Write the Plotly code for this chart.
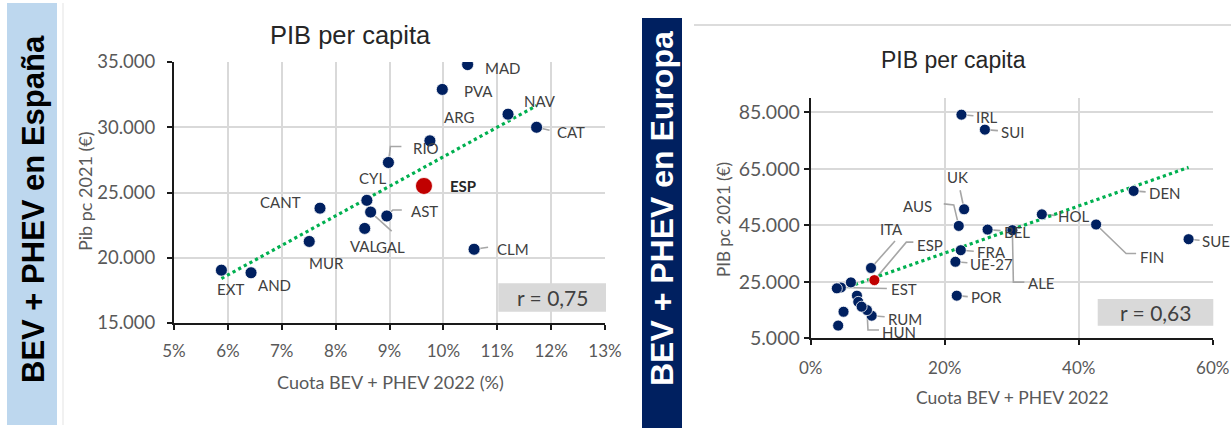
import numpy as np
import plotly.graph_objects as go

W, H = 1231, 428

# ---------------- DATA ----------------
# Spain: regions (CCAA)
es_regions = ["MAD", "PVA", "ARG", "NAV", "CAT", "RIO", "CYL", "CANT", "GAL", "AST",
              "VAL", "MUR", "CLM", "EXT", "AND"]
es_share = [10.45, 9.98, 9.75, 11.20, 11.73, 8.98, 8.58, 7.71, 8.65, 8.95,
            8.54, 7.51, 10.57, 5.88, 6.43]          # Cuota BEV + PHEV 2022 (%)
es_gdp = [34800, 32900, 28960, 31000, 30000, 27300, 24400, 23800, 23500, 23200,
          22250, 21250, 20650, 19050, 18850]        # Pib pc 2021 (EUR)
es_total_name = "ESP"
es_total_share = 9.64
es_total_gdp = 25500
es_r_text = "r = 0,75"

# Europe: countries
eu_countries = ["IRL", "SUI", "UK", "AUS", "BEL", "ALE", "HOL", "DEN", "FIN", "SUE",
                "FRA", "POR", "ITA", "EST", "RUM", "HUN", "", "", "", "", "", "", ""]
eu_share = [22.5, 26.0, 22.9, 22.1, 26.4, 30.1, 34.5, 48.2, 42.6, 56.4,
            22.4, 21.8, 9.0, 4.5, 9.1, 8.4, 3.9, 6.0, 6.9, 7.1, 7.6, 4.9, 4.1]
eu_gdp = [84200, 78900, 50700, 44800, 43500, 43300, 48900, 57200, 45300, 40100,
          36200, 20100, 29900, 23000, 13000, 15000, 22700, 24800, 20100, 17900, 16200, 14400, 9500]
eu_avg_name = "UE-27"
eu_avg_share = 21.6
eu_avg_gdp = 32100
eu_esp_name = "ESP"
eu_esp_share = 9.5
eu_esp_gdp = 25600
eu_r_text = "r = 0,63"

es_xticks = [5, 6, 7, 8, 9, 10, 11, 12, 13]
es_yticks = [15000, 20000, 25000, 30000, 35000]
eu_xticks = [0, 20, 40, 60]
eu_yticks = [5000, 25000, 45000, 65000, 85000]

# ---------------- STYLE ----------------
NAVY = "#002060"
RED = "#c00000"
GREEN = "#00b050"
GRID = "#d9d9d9"
LBL = "#404040"
TICK = "#595959"
LEAD = "#a6a6a6"
FONT = "Lato"

# label placement: name -> (dx px, dy px (down +), anchor, leader path px (down +))
es_lab = {
    "MAD": (16, 3, "left", None),
    "PVA": (21, 2, "left", None),
    "ARG": (13, -24, "left", None),
    "NAV": (15, -13, "left", None),
    "CAT": (19, 5, "left", [(0, 0), (13, 3)]),
    "RIO": (24, -14, "left", [(0, 0), (2, -16), (13, -16)]),
    "CYL": (6, -22, "center", None),
    "CANT": (-18, -6, "right", None),
    "GAL": (4, 35, "left", [(0, 0), (21, 19)]),
    "AST": (23, -5, "left", [(0, 0), (6, -6), (15, -6)]),
    "VAL": (14, 18, "right", None),
    "MUR": (17, 22, "center", None),
    "CLM": (22, 0, "left", [(0, 0), (14, -2)]),
    "EXT": (9, 19, "center", None),
    "AND": (6, 12, "left", None),
    "ESP": (25, 0, "left", None),
}
eu_lab = {
    "IRL": (14, 2, "left", [(0, 0), (12, 1)]),
    "SUI": (15, 2, "left", [(0, 0), (13, 1)]),
    "UK": (-7, -32, "center", [(0, 0), (-4, -19)]),
    "AUS": (-26, -20, "right", [(0, 0), (-5, -21), (-15, -22)]),
    "BEL": (15, 2, "left", [(0, 0), (13, 1)]),
    "ALE": (15, 53, "left", [(0, 0), (1, 52), (12, 52)]),
    "HOL": (15, 2, "left", [(0, 0), (13, 1)]),
    "DEN": (14, 2, "left", [(0, 0), (12, 1)]),
    "FIN": (43, 32, "left", [(0, 0), (30, 29), (40, 29)]),
    "SUE": (12, 2, "left", [(0, 0), (11, 1)]),
    "FRA": (15, 2, "left", [(0, 0), (13, 1)]),
    "UE-27": (14, 2, "left", [(0, 0), (12, 1)]),
    "POR": (13, 1, "left", [(0, 0), (11, 1)]),
    "ITA": (20, -39, "center", [(0, 0), (24, -27)]),
    "ESP": (42, -35, "left", [(0, 0), (32, -38), (39, -38)]),
    "EST": (49, 2, "left", [(0, 0), (46, 1)]),
    "RUM": (15, 3, "left", [(0, 0), (13, 1)]),
    "HUN": (14, 22, "left", [(0, 0), (1, 20), (12, 20)]),
}


def px(x):
    return x / W


def py(y):
    return 1 - y / H


def thousands(v):
    return "{:,.0f}".format(v).replace(",", ".")


fig = go.Figure()

# ---- trend lines (least squares on the plotted points) ----
xs = np.array(es_share)
ys = np.array(es_gdp)
k, b = np.polyfit(xs, ys, 1)
tx = np.array([xs.min(), xs.max()])
fig.add_trace(go.Scatter(x=tx, y=k * tx + b, mode="lines", xaxis="x", yaxis="y",
                         line=dict(color=GREEN, width=3.2, dash="dot"), hoverinfo="skip"))

xe = np.array(eu_share + [eu_esp_share])
ye = np.array(eu_gdp + [eu_esp_gdp])
k2, b2 = np.polyfit(xe, ye, 1)
tx2 = np.array([xe.min(), xe.max()])
fig.add_trace(go.Scatter(x=tx2, y=k2 * tx2 + b2, mode="lines", xaxis="x2", yaxis="y2",
                         line=dict(color=GREEN, width=3.2, dash="dot"), hoverinfo="skip"))

# ---- markers ----
fig.add_trace(go.Scatter(x=es_share, y=es_gdp, mode="markers", xaxis="x", yaxis="y",
                         marker=dict(color=NAVY, size=12, line=dict(color="white", width=0.8)),
                         hoverinfo="skip"))
fig.add_trace(go.Scatter(x=[es_total_share], y=[es_total_gdp], mode="markers", xaxis="x", yaxis="y",
                         marker=dict(color=RED, size=17, line=dict(color="white", width=0.8)),
                         hoverinfo="skip"))
fig.add_trace(go.Scatter(x=eu_share + [eu_avg_share], y=eu_gdp + [eu_avg_gdp], mode="markers",
                         xaxis="x2", yaxis="y2",
                         marker=dict(color=NAVY, size=11, line=dict(color="white", width=0.8)),
                         hoverinfo="skip"))
fig.add_trace(go.Scatter(x=[eu_esp_share], y=[eu_esp_gdp], mode="markers", xaxis="x2", yaxis="y2",
                         marker=dict(color=RED, size=11, line=dict(color="white", width=0.8)),
                         hoverinfo="skip"))

annotations = []
shapes = []


def add_labels(names, xv, yv, spec, xr, yr, size, bold_names=()):
    for n, x, y in zip(names, xv, yv):
        if not n or n not in spec:
            continue
        dx, dy, anc, lead = spec[n]
        txt = "<b>%s</b>" % n if n in bold_names else n
        annotations.append(dict(x=x, y=y, xref=xr, yref=yr, text=txt, showarrow=False,
                                xshift=dx, yshift=-dy, xanchor=anc, yanchor="middle", borderpad=0,
                                font=dict(family=FONT, size=size,
                                          color="#262626" if n in bold_names else LBL)))
        if lead:
            path = "M " + " L ".join("%g,%g" % (p[0], -p[1]) for p in lead)
            shapes.append(dict(type="path", xref=xr, yref=yr, xsizemode="pixel", ysizemode="pixel",
                               xanchor=x, yanchor=y, path=path, layer="between",
                               line=dict(color=LEAD, width=1.6)))


add_labels(es_regions + [es_total_name], es_share + [es_total_share], es_gdp + [es_total_gdp],
           es_lab, "x", "y", 15, bold_names=("ESP",))
add_labels(eu_countries + [eu_avg_name, eu_esp_name], eu_share + [eu_avg_share, eu_esp_share],
           eu_gdp + [eu_avg_gdp, eu_esp_gdp], eu_lab, "x2", "y2", 15)


def paper_text(cx, cy, text, size, color, family=FONT, angle=0):
    annotations.append(dict(x=px(cx), y=py(cy), xref="paper", yref="paper", text=text,
                            textangle=angle, showarrow=False, xanchor="center", yanchor="middle",
                            font=dict(family=family, size=size, color=color)))


# ---- side bands ----
shapes.append(dict(type="rect", xref="paper", yref="paper", x0=px(7), x1=px(57), y0=py(425), y1=py(3),
                   fillcolor="#bdd7ee", line=dict(width=0), layer="below"))
shapes.append(dict(type="rect", xref="paper", yref="paper", x0=px(642), x1=px(682), y0=py(428), y1=py(18),
                   fillcolor="#002060", line=dict(width=0), layer="below"))
shapes.append(dict(type="line", xref="paper", yref="paper", x0=px(63), x1=px(63), y0=py(425), y1=py(3),
                   line=dict(color="#ececec", width=1.5), layer="below"))
shapes.append(dict(type="line", xref="paper", yref="paper", x0=px(694), x1=1, y0=py(25), y1=py(25),
                   line=dict(color="#dcdcdc", width=2), layer="below"))

paper_text(33, 209, "<b>BEV + PHEV en España</b>", 31, "black", "Liberation Sans", -90)
paper_text(662, 209, "<b>BEV + PHEV en Europa</b>", 32, "white", "Liberation Sans", -90)

# ---- r boxes ----
shapes.append(dict(type="rect", xref="paper", yref="paper", x0=px(498.3), x1=px(606), y0=py(311.7),
                   y1=py(283.3), fillcolor=GRID, line=dict(width=0), layer="above"))
paper_text(552, 297.5, es_r_text, 21, LBL)
shapes.append(dict(type="rect", xref="paper", yref="paper", x0=px(1097.7), x1=px(1213.3), y0=py(325.7),
                   y1=py(299), fillcolor=GRID, line=dict(width=0), layer="above"))
paper_text(1155.5, 312.3, eu_r_text, 21, LBL)

# ---- titles ----
paper_text(351, 35, "PIB per capita", 25.5, "#262626", "Liberation Sans")
paper_text(953, 60, "PIB per capita", 23, "#262626", "Liberation Sans")

paper_text(390, 382, "Cuota BEV + PHEV 2022 (%)", 18, TICK)
paper_text(85, 192, "Pib pc 2021 (€)", 18, TICK, angle=-90)
paper_text(1012, 397, "Cuota BEV + PHEV 2022", 17.5, TICK)
paper_text(724, 220, "PIB pc 2021 (€)", 17, TICK, angle=-90)

axis_common = dict(showgrid=True, gridcolor=GRID, gridwidth=1.6, showline=True, linecolor="#1a1a1a",
                   linewidth=2, ticks="outside", ticklen=5, tickcolor="#1a1a1a", tickwidth=1.5,
                   zeroline=False, fixedrange=True, tickmode="array", automargin=False)

fig.update_layout(
    width=W, height=H, autosize=False, margin=dict(l=0, r=0, t=0, b=0, pad=0, autoexpand=False),
    paper_bgcolor="white", plot_bgcolor="white", showlegend=False,
    xaxis=dict(axis_common, domain=[px(174), px(605)], range=[5, 13], tickvals=es_xticks,
               ticktext=["%d%%" % v for v in es_xticks], ticklabelstandoff=7,
               anchor="y", tickfont=dict(family=FONT, size=17, color=TICK)),
    yaxis=dict(axis_common, domain=[py(323), py(62)], range=[15000, 35000], tickvals=es_yticks,
               ticktext=[thousands(v) for v in es_yticks], ticklabelstandoff=8,
               anchor="x", tickfont=dict(family=FONT, size=18.5, color=TICK)),
    xaxis2=dict(axis_common, domain=[px(810.7), px(1212.7)], range=[0, 60], tickvals=eu_xticks,
                ticktext=["%d%%" % v for v in eu_xticks], ticklabelstandoff=8,
                anchor="y2", tickfont=dict(family=FONT, size=17, color=TICK)),
    yaxis2=dict(axis_common, domain=[py(338.3), py(98.3)], range=[5000, 90000], tickvals=eu_yticks,
                ticktext=[thousands(v) for v in eu_yticks],
                anchor="x2", tickfont=dict(family=FONT, size=19.5, color=TICK)),
    annotations=annotations, shapes=shapes,
)

fig.write_html("out.html", config={"displayModeBar": False},
               post_script="document.body.style.margin='0';document.body.style.padding='0';")
